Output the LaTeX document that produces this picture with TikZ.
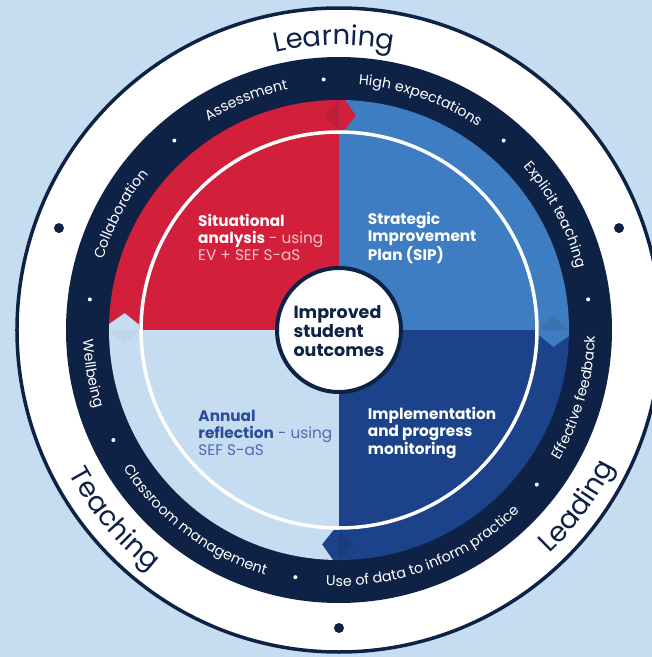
\documentclass[tikz,border=0pt]{standalone}
\usepackage{fontspec}
\newfontfamily\pop{Poppins}
\usetikzlibrary{decorations.text}
\definecolor{bgblue}{HTML}{C6DCF1}
\definecolor{navy}{HTML}{0E2246}
\definecolor{redq}{HTML}{D21F3C}
\definecolor{midq}{HTML}{3E7DC1}
\definecolor{darkq}{HTML}{1C4389}
\definecolor{lightq}{HTML}{C6DCF1}
\definecolor{pinkt}{HTML}{F6C3CB}
\definecolor{annb}{HTML}{2B4C9B}
\definecolor{annl}{HTML}{4A6AB2}
% clockwise text (tops outward): angle, radius, size, colour, text
\newcommand\cwtext[5]{\path[decorate,decoration={text along path,text align=center,text color=#4,
  text={|\pop\fontsize{#3}{#3}\selectfont|#5}}] ({#1+50}:#2) arc[start angle={#1+50},end angle={#1-50},radius=#2];}
% counter-clockwise text (tops inward)
\newcommand\ccwtext[5]{\path[decorate,decoration={text along path,text align=center,text color=#4,
  text={|\pop\fontsize{#3}{#3}\selectfont|#5}}] ({#1-50}:#2) arc[start angle={#1-50},end angle={#1+50},radius=#2];}
% chevron at boundary angle #1 pointing clockwise, colour #2, fold opacity #3
\newcommand\chev[3]{%
  \fill[black,opacity=#3] (#1:230) -- ({#1+4}:215) -- (#1:200) -- cycle;
  \fill[#2] (#1:230) arc[start angle=#1,end angle={#1-1.5},radius=230] -- ({#1-4.5}:215)
     -- ({#1-1.5}:200) arc[start angle={#1-1.5},end angle=#1,radius=200] -- cycle;}
\tikzset{
  quadtext/.style={anchor=north west,align=left,inner sep=0pt,font=\pop\fontsize{15.3}{17.2}\selectfont},
  ringdot/.style={fill=white},
  bigdot/.style={fill=navy}
}
\begin{document}
\begin{tikzpicture}[x=1pt,y=1pt]
\useasboundingbox (-339,-327) rectangle (313,330);
\fill[bgblue] (-339,-327) rectangle (313,330);
% outer white band
\fill[white] (0,0) circle (322);
\draw[navy,line width=3.5] (0,0) circle (322);
% navy ring
\fill[navy] (0,0) circle (273);
% quadrants
\fill[redq] (0,0) -- (90:230) arc[start angle=90,end angle=180,radius=230] -- cycle;
\fill[midq] (0,0) -- (0:230) arc[start angle=0,end angle=90,radius=230] -- cycle;
\fill[darkq] (0,0) -- (-90:230) arc[start angle=-90,end angle=0,radius=230] -- cycle;
\fill[lightq] (0,0) -- (180:230) arc[start angle=180,end angle=270,radius=230] -- cycle;
% arrow heads
\chev{90}{redq}{0.08}
\chev{0}{midq}{0.08}
\chev{270}{darkq}{0.08}
\chev{180}{lightq}{0.03}
% inner white circle
\draw[white,line width=3.5] (0,0) circle (198);
% hub
\node[circle,fill=white,draw=navy,line width=4,minimum size=124,inner sep=0pt] (hub) at (0,0) {};
\node[align=left,inner sep=0pt,text=navy,font=\pop\bfseries\fontsize{17.5}{19}\selectfont] (hubtext) at (0,-1) {Improved\\student\\outcomes};
% quadrant texts
\node[quadtext,text=white] (sit) at (-141,116) {\bfseries Situational\\\bfseries analysis\mdseries\color{pinkt}\ - using\\\color{pinkt}EV + SEF S-aS};
\node[quadtext,text=white] (sip) at (28.7,118) {\bfseries Strategic\\\bfseries Improvement\\\bfseries Plan (SIP)};
\node[quadtext,text=annb] (ann) at (-140.7,-80) {\bfseries Annual\\\bfseries reflection\mdseries\color{annl}\ - using\\\color{annl}SEF S-aS};
\node[quadtext,text=white] (imp) at (28.7,-77.3) {\bfseries Implementation\\\bfseries and progress\\\bfseries monitoring};
% ring words
\cwtext{112}{246}{14.3}{white}{Assessment}
\cwtext{70.5}{246}{14.3}{white}{High expectations}
\cwtext{28}{246}{14.3}{white}{Explicit teaching}
\cwtext{152}{246}{14.3}{white}{Collaboration}
\ccwtext{-16}{256}{14.3}{white}{Effective feedback}
\ccwtext{-69}{256}{14.3}{white}{Use of data to inform practice}
\ccwtext{-127}{256}{14.3}{white}{Classroom management}
\ccwtext{-170}{256}{14.3}{white}{Wellbeing}
% ring dots
\foreach \a in {93.5,49,7,-38,-100,-154,173,131} \fill[ringdot] (\a:251) circle (2);
% outer words
\cwtext{91}{285}{27.5}{navy}{Learning}
\ccwtext{-140}{306}{27.5}{navy}{Teaching}
\ccwtext{-36.5}{307}{27.5}{navy}{Leading}
% outer dots
\foreach \a in {160,20,-90} \fill[bigdot] (\a:298) circle (5);
\end{tikzpicture}
\end{document}
